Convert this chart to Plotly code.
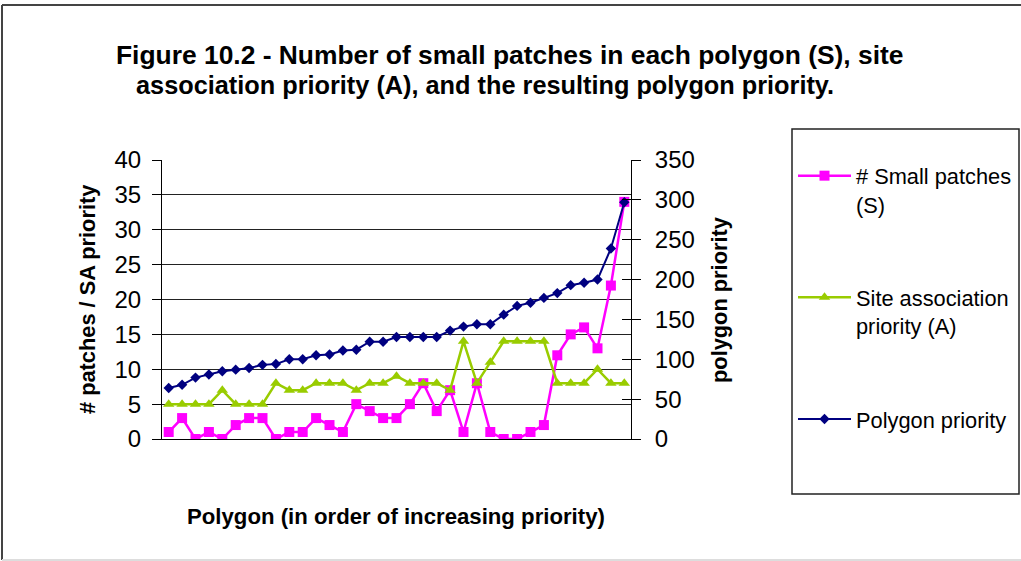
import plotly.graph_objects as go

# ---- data ----
polygons = list(range(1, 36))
small_patches = [1, 3, 0, 1, 0, 2, 3, 3, 0, 1, 1, 3, 2, 1, 5, 4, 3, 3, 5, 8,
                 4, 7, 1, 8, 1, 0, 0, 1, 2, 12, 15, 16, 13, 22, 34]
site_assoc = [5, 5, 5, 5, 7, 5, 5, 5, 8, 7, 7, 8, 8, 8, 7, 8, 8, 9, 8, 8,
              8, 7, 14, 8, 11, 14, 14, 14, 14, 8, 8, 8, 10, 8, 8]
polygon_priority = [64, 68, 77, 81, 85, 87, 89, 93, 94, 100, 100, 105, 106, 111,
                    112, 122, 122, 128, 128, 128, 128, 136, 141, 144, 144, 156,
                    167, 171, 177, 183, 193, 196, 200, 239, 297]
left_ticks = list(range(0, 41, 5))
right_ticks = list(range(0, 351, 50))

W, H = 1021, 561
L, R, T, B = 162, 631, 160, 439  # plot area in pixels


def px(x):
    return (x - L) / (R - L)


def py(y):
    return (B - y) / (B - T)


FONT = "Liberation Sans, Arial, sans-serif"
PINK = "#FF00FF"
GREEN = "#99CC00"
NAVY = "#000080"

fig = go.Figure()
fig.add_trace(go.Scatter(
    x=polygons, y=small_patches, name="# Small patches<br>(S)",
    mode="lines+markers", legendgroup="s",
    line=dict(color=PINK, width=2.5),
    marker=dict(symbol="square", size=10, color=PINK),
    yaxis="y"))
fig.add_trace(go.Scatter(
    x=polygons, y=site_assoc, name="Site association<br>priority (A)",
    mode="lines+markers", legendgroup="a",
    line=dict(color=GREEN, width=2.5),
    marker=dict(symbol="triangle-up", size=10, color=GREEN),
    yaxis="y"))
fig.add_trace(go.Scatter(
    x=polygons, y=polygon_priority, name="Polygon priority",
    mode="lines+markers", legendgroup="p",
    line=dict(color=NAVY, width=2),
    marker=dict(symbol="diamond", size=8, color=NAVY),
    yaxis="y2"))
# invisible helper trace for inner half of the crossing ticks on the right axis
fig.add_trace(go.Scatter(
    x=polygons, y=polygon_priority, mode="lines", showlegend=False,
    hoverinfo="skip", line=dict(color="rgba(0,0,0,0)"), yaxis="y3"))

tickfont = dict(family=FONT, size=24, color="black")

fig.update_layout(
    width=W, height=H,
    margin=dict(l=L, r=W - R, t=T, b=H - B, pad=0, autoexpand=False),
    paper_bgcolor="white", plot_bgcolor="white",
    showlegend=True,
    xaxis=dict(type="linear", range=[0.5, 35.5], showticklabels=False,
               ticks="", showgrid=False, zeroline=False,
               showline=True, linecolor="black", linewidth=1),
    yaxis=dict(range=[0, 40], tickvals=left_ticks, ticks="outside",
               ticklen=9, tickcolor="black", tickwidth=1,
               showline=True, linecolor="black", linewidth=1,
               showgrid=True, gridcolor="#222222", gridwidth=1,
               zeroline=False, tickfont=tickfont, ticklabelstandoff=6),
    yaxis2=dict(range=[0, 350], tickvals=right_ticks, overlaying="y",
                side="right", ticks="outside", ticklen=9, tickcolor="black",
                showline=True, linecolor="black", linewidth=1,
                showgrid=False, zeroline=False, tickfont=tickfont,
                ticklabelstandoff=9),
    yaxis3=dict(range=[0, 350], tickvals=right_ticks, overlaying="y",
                side="right", ticks="inside", ticklen=9, tickcolor="black",
                showline=False, showgrid=False, zeroline=False,
                showticklabels=False),
    legend=dict(x=px(793), y=py(155), xanchor="left", yanchor="top",
                bgcolor="rgba(0,0,0,0)", borderwidth=0,
                font=dict(family=FONT, size=21.8, color="black"),
                valign="top", itemwidth=53, tracegroupgap=62,
                traceorder="grouped", itemclick=False, maxheight=1),
    font=dict(family=FONT, color="black"),
)

annotations = [
    dict(text="<b>Figure 10.2 - Number of small patches in each polygon (S), site</b>",
         x=px(114), y=py(55), xanchor="left", yanchor="middle",
         font=dict(family=FONT, size=26.4, color="black")),
    dict(text="<b>association priority (A), and the resulting polygon priority.</b>",
         x=px(134), y=py(85), xanchor="left", yanchor="middle",
         font=dict(family=FONT, size=25.3, color="black")),
    dict(text="<b># patches / SA priority</b>", x=px(87), y=py(300),
         xanchor="center", yanchor="middle", textangle=-90,
         font=dict(family=FONT, size=21.8, color="black")),
    dict(text="<b>polygon priority</b>", x=px(719), y=py(300),
         xanchor="center", yanchor="middle", textangle=-90,
         font=dict(family=FONT, size=21.8, color="black")),
    dict(text="<b>Polygon (in order of increasing priority)</b>", x=px(396),
         y=py(516), xanchor="center", yanchor="middle",
         font=dict(family=FONT, size=22.2, color="black")),
]
for a in annotations:
    a.update(xref="paper", yref="paper", showarrow=False)
fig.update_layout(annotations=annotations)

shapes = [
    # legend box
    dict(type="rect", x0=px(792), x1=px(1019), y0=py(494), y1=py(129),
         line=dict(color="#222222", width=1.5), fillcolor="rgba(0,0,0,0)"),
    # outer chart border: top, left (dark), bottom (light)
    dict(type="line", x0=px(2), x1=px(1030), y0=py(5), y1=py(5),
         line=dict(color="#444444", width=2)),
    dict(type="line", x0=px(2), x1=px(2), y0=py(5), y1=py(560),
         line=dict(color="#444444", width=2)),
    dict(type="line", x0=px(2), x1=px(1030), y0=py(560), y1=py(560),
         line=dict(color="#dddddd", width=2)),
]
for s in shapes:
    s.update(xref="paper", yref="paper", layer="above")
fig.update_layout(shapes=shapes)

fig.write_html(
    "out.html",
    config={"displayModeBar": False, "staticPlot": True},
    post_script="document.body.style.margin='0';document.body.style.overflow='hidden';",
)
